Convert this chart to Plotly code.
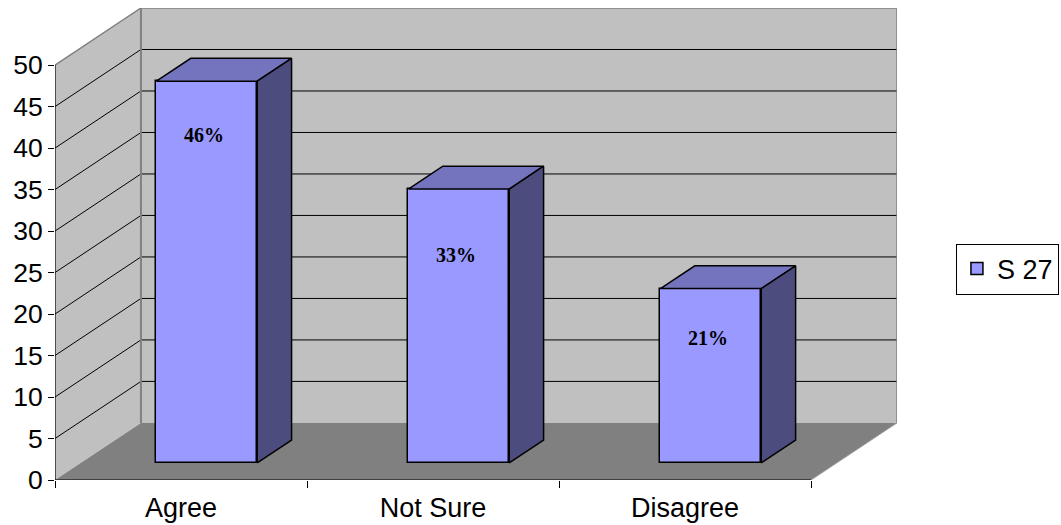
import plotly.graph_objects as go

# ---- data ----
categories = ["Agree", "Not Sure", "Disagree"]
values = [46, 33, 21]
series_name = "S 27"
y_ticks = [0, 5, 10, 15, 20, 25, 30, 35, 40, 45, 50]

# ---- oblique 3-D box geometry (in axis units) ----
Y_MAX = 50
DEPTH_X = 0.341      # shift of back wall to the right (category units)
DEPTH_Y = 6.88       # shift of back wall upwards (value units)
BAR_W = 0.4          # bar width (category units)
BAR_FRONT = 0.30     # front face of bars, fraction of floor depth
BAR_BACK = 0.70      # back face of bars, fraction of floor depth
label_drop = [6.5, 8.0, 5.9]   # label distance below front-face top

FRONT_COLOR = "#9999FF"
TOP_COLOR = "#7474BE"
SIDE_COLOR = "#4C4C7E"
WALL_COLOR = "#C0C0C0"
FLOOR_COLOR = "#808080"
EDGE_COLOR = "#808080"

n = len(categories)
centers = [i + 0.5 for i in range(n)]

shapes = []


def poly(points, fill, line_color=None, width=0):
    path = "M " + " L ".join(f"{x},{y}" for x, y in points) + " Z"
    return dict(type="path", path=path, xref="x", yref="y", layer="below",
                fillcolor=fill, line=dict(color=line_color or fill, width=width))


def seg(x0, y0, x1, y1, color, width):
    return dict(type="line", x0=x0, y0=y0, x1=x1, y1=y1, xref="x", yref="y",
                layer="below", line=dict(color=color, width=width))


# walls and floor
shapes.append(poly([(0, 0), (DEPTH_X, DEPTH_Y), (DEPTH_X, Y_MAX + DEPTH_Y), (0, Y_MAX)], WALL_COLOR))
shapes.append(poly([(DEPTH_X, DEPTH_Y), (n + DEPTH_X, DEPTH_Y), (n + DEPTH_X, Y_MAX + DEPTH_Y),
                    (DEPTH_X, Y_MAX + DEPTH_Y)], WALL_COLOR))
shapes.append(poly([(0, 0), (n, 0), (n + DEPTH_X, DEPTH_Y), (DEPTH_X, DEPTH_Y)], FLOOR_COLOR))

# gridlines on the left and back walls
for t in y_ticks:
    if t == 0 or t == Y_MAX:
        continue
    shapes.append(seg(0, t, DEPTH_X, t + DEPTH_Y, "black", 1))
    shapes.append(seg(DEPTH_X, t + DEPTH_Y, n + DEPTH_X, t + DEPTH_Y, "black", 1))

# wall edges
shapes.append(seg(0, Y_MAX, DEPTH_X, Y_MAX + DEPTH_Y, EDGE_COLOR, 1.5))
shapes.append(seg(DEPTH_X, Y_MAX + DEPTH_Y, n + DEPTH_X, Y_MAX + DEPTH_Y, EDGE_COLOR, 1.5))
shapes.append(seg(n + DEPTH_X, DEPTH_Y, n + DEPTH_X, Y_MAX + DEPTH_Y, EDGE_COLOR, 1.5))
shapes.append(seg(DEPTH_X, DEPTH_Y, DEPTH_X, Y_MAX + DEPTH_Y, EDGE_COLOR, 2))
shapes.append(seg(n, 0, n + DEPTH_X, DEPTH_Y, "#A0A0A0", 1))

# front axes
shapes.append(seg(0, 0, 0, Y_MAX, "black", 1.2))
shapes.append(seg(0, 0, n, 0, "black", 1.2))

# ---- bars ----
lift = BAR_FRONT * DEPTH_Y
front_x = [c + BAR_FRONT * DEPTH_X for c in centers]

top_x, top_y, side_x, side_y = [], [], [], []
for c, v in zip(centers, values):
    fx0 = c - BAR_W / 2 + BAR_FRONT * DEPTH_X
    fx1 = fx0 + BAR_W
    bx0 = c - BAR_W / 2 + BAR_BACK * DEPTH_X
    bx1 = bx0 + BAR_W
    fyb, byb = BAR_FRONT * DEPTH_Y, BAR_BACK * DEPTH_Y
    fyt, byt = v + fyb, v + byb
    top_x += [fx0, fx1, bx1, bx0, fx0, None]
    top_y += [fyt, fyt, byt, byt, fyt, None]
    side_x += [fx1, fx1, bx1, bx1, fx1, None]
    side_y += [fyb, fyt, byt, byb, fyb, None]

fig = go.Figure()
fig.add_trace(go.Bar(
    x=front_x, y=values, base=lift, width=BAR_W, name=series_name,
    marker=dict(color=FRONT_COLOR, line=dict(color="black", width=1.5)),
    hoverinfo="skip",
))
fig.add_trace(go.Scatter(
    x=top_x, y=top_y, fill="toself", fillcolor=TOP_COLOR, mode="lines",
    line=dict(color="black", width=1.5), showlegend=False, hoverinfo="skip",
))
fig.add_trace(go.Scatter(
    x=side_x, y=side_y, fill="toself", fillcolor=SIDE_COLOR, mode="lines",
    line=dict(color="black", width=1.5), showlegend=False, hoverinfo="skip",
))

annotations = []
for x, v, d in zip(front_x, values, label_drop):
    annotations.append(dict(
        x=x - 0.012, y=v + lift - d, xref="x", yref="y", text=f"<b>{v}%</b>",
        showarrow=False, font=dict(family="Liberation Serif", size=20, color="black"),
    ))

fig.update_layout(
    width=1061, height=525,
    margin=dict(l=55, r=164, t=8, b=45, autoexpand=False),
    paper_bgcolor="white", plot_bgcolor="white",
    shapes=shapes, annotations=annotations,
    bargap=0,
    font=dict(family="Liberation Sans", color="black"),
    xaxis=dict(
        range=[0, n + DEPTH_X], showgrid=False, zeroline=False, showline=False,
        tickvals=centers, ticktext=categories, ticks="",
        tickfont=dict(size=27), fixedrange=True, ticklabelstandoff=9,
        minor=dict(tick0=0, dtick=1, ticks="outside", ticklen=7, tickcolor="black", showgrid=False),
    ),
    yaxis=dict(
        range=[0, Y_MAX + DEPTH_Y], showgrid=False, zeroline=False, showline=False,
        tickvals=y_ticks, ticks="outside", ticklen=6, tickcolor="black", tickwidth=1.2,
        tickfont=dict(size=26.5), fixedrange=True,
    ),
    showlegend=True,
    legend=dict(
        x=1.07, y=0.447, xanchor="left", yanchor="middle",
        bordercolor="black", borderwidth=1, bgcolor="white",
        font=dict(size=27),
    ),
)

fig.write_html("out.html")
